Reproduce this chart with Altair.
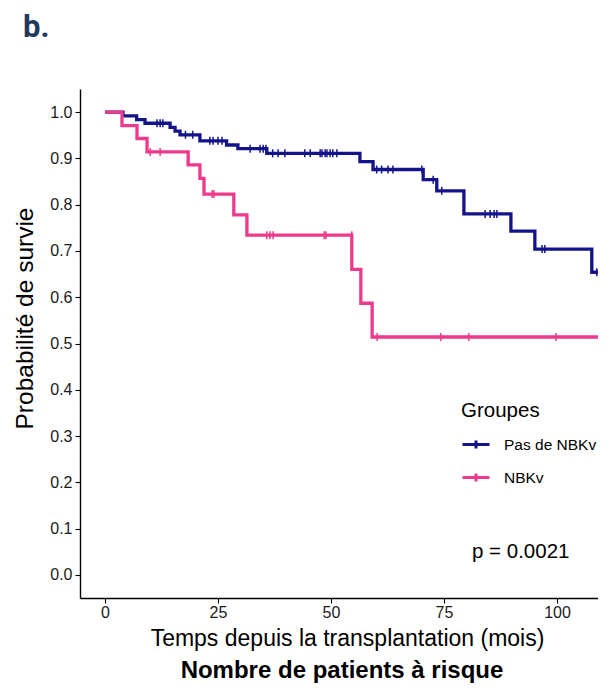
import altair as alt
import pandas as pd

# ---------------- data ----------------
GROUPS = ["Pas de NBKv", "NBKv"]
COLORS = ["#14148a", "#ee3a8c"]

# Kaplan-Meier steps (time in months, survival after the step)
BLUE_T = [0, 3.98, 7.0, 8.85, 14.4, 15.5, 16.6, 21.0, 26.9, 29.4, 35.8, 56.4,
          59.3, 70.4, 73.4, 79.4, 89.8, 95.1, 107.7, 112]
BLUE_S = [1.0, 0.992, 0.984, 0.976, 0.967, 0.959, 0.951, 0.938, 0.929, 0.921,
          0.911, 0.893, 0.876, 0.854, 0.830, 0.780, 0.743, 0.704, 0.654, 0.654]
PINK_T = [0, 3.76, 7.08, 9.3, 18.4, 21.0, 21.9, 28.5, 31.4, 54.6, 56.6, 59.1, 112]
PINK_S = [1.0, 0.971, 0.943, 0.914, 0.886, 0.857, 0.823, 0.778, 0.734, 0.660,
          0.587, 0.514, 0.514]

# censored observations
BLUE_CENS_T = [11.5, 12.2, 12.8, 17.8, 19.4, 23.2, 23.9, 25.0, 25.9, 32.1, 34.3,
               35.0, 35.6, 37.1, 38.3, 39.8, 44.2, 45.4, 47.6, 48.0, 48.7, 49.1,
               49.8, 50.4, 51.3, 60.1, 61.2, 62.6, 63.7, 70.1, 72.6, 74.5, 84.1,
               85.2, 86.1, 86.7, 96.7, 97.3, 108.8, 109.5, 110.2]
BLUE_CENS_S = [0.976, 0.976, 0.976, 0.951, 0.951, 0.938, 0.938, 0.938, 0.938,
               0.921, 0.921, 0.921, 0.921, 0.911, 0.911, 0.911, 0.911, 0.911,
               0.911, 0.911, 0.911, 0.911, 0.911, 0.911, 0.911, 0.876, 0.876,
               0.876, 0.876, 0.876, 0.854, 0.830, 0.780, 0.780, 0.780, 0.780,
               0.704, 0.704, 0.654, 0.654, 0.654]
PINK_CENS_T = [10.0, 12.2, 23.7, 24.1, 35.8, 36.5, 37.2, 48.5, 48.9, 54.6, 60.2,
               74.3, 80.5, 99.8, 110.6]
PINK_CENS_S = [0.914, 0.914, 0.823, 0.823, 0.734, 0.734, 0.734, 0.734, 0.734,
               0.734, 0.514, 0.514, 0.514, 0.514, 0.514]

X_TICKS = [0, 25, 50, 75, 100]
Y_TICKS = [0.0, 0.1, 0.2, 0.3, 0.4, 0.5, 0.6, 0.7, 0.8, 0.9, 1.0]

PANEL_LABEL = ["b."]
RISK_TITLE = ["Nombre de patients à risque"]
P_VALUE = ["p = 0.0021"]
X_TITLE = "Temps depuis la transplantation (mois)"
Y_TITLE = "Probabilité de survie"
LEGEND_TITLE = "Groupes"

# ---------------- tables ----------------
line_df = pd.concat([
    pd.DataFrame({"t": BLUE_T, "s": BLUE_S, "g": GROUPS[0]}),
    pd.DataFrame({"t": PINK_T, "s": PINK_S, "g": GROUPS[1]}),
])
cens_df = pd.concat([
    pd.DataFrame({"t": BLUE_CENS_T, "s": BLUE_CENS_S, "g": GROUPS[0]}),
    pd.DataFrame({"t": PINK_CENS_T, "s": PINK_CENS_S, "g": GROUPS[1]}),
])

FONT = "Liberation Sans"

legend = alt.Legend(
    title=LEGEND_TITLE, orient="none", legendX=381, legendY=312, padding=0,
    titleFont=FONT, titleFontSize=20.5, titleFontWeight="normal", titleColor="black",
    titlePadding=8, labelFont=FONT, labelFontSize=15.5, labelColor="black",
    symbolType="M-1,0L1,0M0,-0.3L0,0.3", symbolSize=729, symbolStrokeWidth=3,
    rowPadding=7, labelOffset=13, direction="vertical",
)

x_enc = alt.X(
    "t:Q",
    scale=alt.Scale(domain=[-5.53, 109.07], nice=False, zero=False),
    axis=alt.Axis(
        values=X_TICKS, format="d", title=X_TITLE, grid=False,
        labelFont=FONT, labelFontSize=16, labelColor="#1a1a1a", labelPadding=1,
        tickSize=5, tickColor="black", tickWidth=1.1,
        domainColor="black", domainWidth=1.4,
        titleFont=FONT, titleFontSize=23, titleFontWeight="normal", titleColor="black",
        titleX=267, titleY=47, titleBaseline="alphabetic", titleAlign="center",
    ),
)
y_enc = alt.Y(
    "s:Q",
    scale=alt.Scale(domain=[-0.05, 1.05], nice=False, zero=False),
    axis=alt.Axis(
        values=Y_TICKS, format=".1f", title=Y_TITLE, grid=False,
        labelFont=FONT, labelFontSize=16, labelColor="#1a1a1a", labelPadding=3,
        tickSize=5, tickColor="black", tickWidth=1.1,
        domainColor="black", domainWidth=1.4,
        titleFont=FONT, titleFontSize=24.5, titleFontWeight="normal", titleColor="black",
        titleX=-48, titleY=229, titleBaseline="alphabetic", titleAlign="center",
    ),
)
color_enc = alt.Color("g:N", scale=alt.Scale(domain=GROUPS, range=COLORS), legend=legend)

lines = alt.Chart(line_df).mark_line(
    interpolate="step-after", strokeWidth=3.3, clip=True
).encode(x=x_enc, y=y_enc, color=color_enc, order=alt.Order("t:Q"))

cens = alt.Chart(cens_df).mark_point(
    shape="M0,-1L0,1", size=64, strokeWidth=1.5, filled=False, opacity=1, clip=True
).encode(x="t:Q", y="s:Q", color=color_enc)

panel = alt.Chart(pd.DataFrame({"txt": PANEL_LABEL})).mark_text(
    font="Roboto", fontSize=31, fontWeight="bold", color="#1f3a5c",
    align="left", baseline="alphabetic"
).encode(text="txt:N", x=alt.value(-57), y=alt.value(-52))

risk = alt.Chart(pd.DataFrame({"txt": RISK_TITLE})).mark_text(
    font=FONT, fontSize=24, fontWeight="bold", color="black",
    align="center", baseline="alphabetic"
).encode(text="txt:N", x=alt.value(262), y=alt.value(589))

pval = alt.Chart(pd.DataFrame({"txt": P_VALUE})).mark_text(
    font=FONT, fontSize=20.5, color="black", align="left", baseline="alphabetic"
).encode(text="txt:N", x=alt.value(392), y=alt.value(469))

chart = alt.layer(lines, cens, panel, risk, pval).properties(
    width=518, height=509,
    autosize=alt.AutoSizeParams(type="none"),
    padding={"left": 72, "top": 81, "right": 0, "bottom": 87},
    background="white",
).configure_view(stroke=None)

chart.save("out.html", embed_options={"renderer": "svg", "actions": False})
